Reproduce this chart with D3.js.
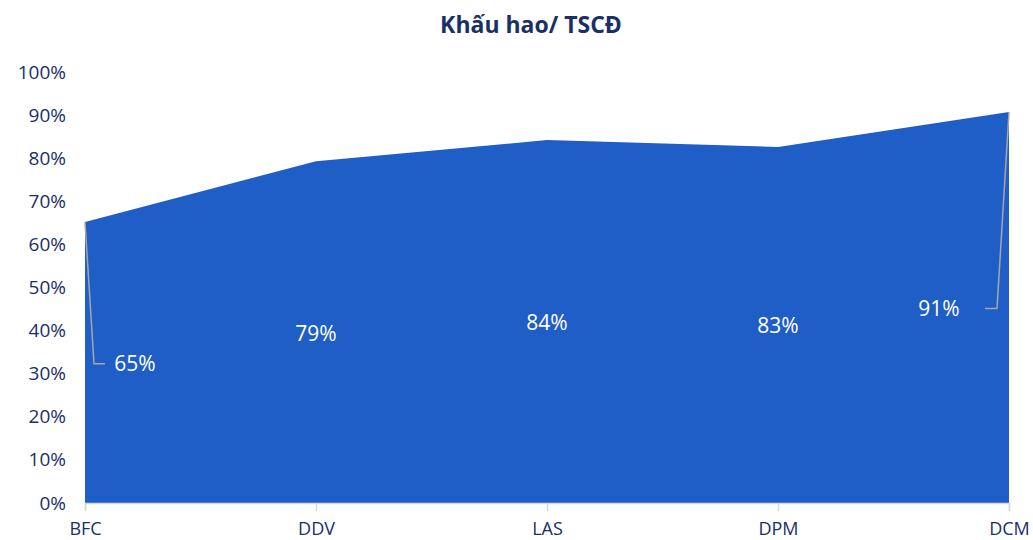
<!DOCTYPE html>
<html>
<head>
<meta charset="utf-8">
<script src="https://cdn.jsdelivr.net/npm/d3@7"></script>
<style>
  body { margin: 0; background: #fff; }
  text { font-family: "Open Sans", "Noto Sans", sans-serif; }
</style>
</head>
<body>
<div id="chart"></div>
<script>
// Khấu hao / TSCĐ area chart
var categories = ["BFC", "DDV", "LAS", "DPM", "DCM"];
var values = [0.652, 0.793, 0.842, 0.826, 0.907];
var labels = ["65%", "79%", "84%", "83%", "91%"];
var yTicks = [0, 0.1, 0.2, 0.3, 0.4, 0.5, 0.6, 0.7, 0.8, 0.9, 1.0];

var svgWidth = 1033;
var svgHeight = 540;
var margin = { top: 72, right: 24, bottom: 37, left: 85 };
var width = svgWidth - margin.left - margin.right;
var height = svgHeight - margin.top - margin.bottom;

var svg = d3.select("#chart").append("svg")
    .attr("width", svgWidth)
    .attr("height", svgHeight);

svg.append("text")
    .attr("x", 531)
    .attr("y", 33)
    .attr("text-anchor", "middle")
    .attr("font-size", 23)
    .attr("font-weight", "bold")
    .attr("fill", "#1a2f66")
    .text("Khấu hao/ TSCĐ");

var g = svg.append("g")
    .attr("transform", `translate(${margin.left}, ${margin.top})`);

var x = d3.scalePoint().domain(categories).range([0, width]);
var y = d3.scaleLinear().domain([0, 1]).range([height, 0]);

var data = categories.map((c, i) => ({ cat: c, v: values[i], label: labels[i] }));

var area = d3.area()
    .x(d => x(d.cat))
    .y0(height)
    .y1(d => y(d.v));

g.append("path")
    .datum(data)
    .attr("d", area)
    .attr("fill", "#1f5ec6");

// x axis
var xAxis = g.append("g")
    .attr("transform", `translate(0, ${height})`)
    .call(d3.axisBottom(x).tickSize(8).tickPadding(11));
xAxis.select(".domain").attr("stroke", "#d9d9d9").attr("stroke-width", 1.5);
xAxis.selectAll(".tick line").attr("stroke", "#d9d9d9").attr("stroke-width", 1.5);
xAxis.selectAll(".tick text")
    .attr("font-size", 18)
    .attr("fill", "#1a2f66");

// y axis labels only
var yAxis = g.append("g")
    .call(d3.axisLeft(y).tickValues(yTicks).tickFormat(d3.format(".0%")).tickSize(0).tickPadding(19));
yAxis.select(".domain").remove();
yAxis.selectAll(".tick text")
    .attr("font-size", 19)
    .attr("fill", "#1a2f66");

// data labels (offsets)
var labelPos = [
    { dx: 50, y: 0.323, leader: true },
    { dx: 0, y: 0.393, leader: false },
    { dx: 0, y: 0.418, leader: false },
    { dx: 0, y: 0.411, leader: false },
    { dx: -70, y: 0.451, leader: true }
];

data.forEach(function(d, i) {
    var p = labelPos[i];
    var lx = x(d.cat) + p.dx;
    var ly = y(p.y);
    if (p.leader) {
        var px = x(d.cat), py = y(d.v);
        var bendX = i === 0 ? px + 9 : px - 12;
        var endX = i === 0 ? px + 20 : px - 24;
        g.append("polyline")
            .attr("points", `${px},${py} ${bendX},${ly} ${endX},${ly}`)
            .attr("fill", "none")
            .attr("stroke", "#a6a6a6")
            .attr("stroke-width", 1.5);
    }
    g.append("text")
        .attr("x", lx)
        .attr("y", ly)
        .attr("dy", "0.35em")
        .attr("text-anchor", "middle")
        .attr("font-size", 21)
        .attr("fill", "#ffffff")
        .text(d.label);
});
</script>
</body>
</html>
